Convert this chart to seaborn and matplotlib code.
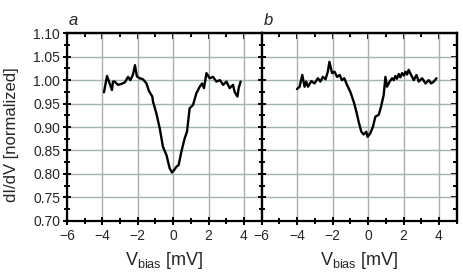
import matplotlib
matplotlib.use("Agg")
import matplotlib.pyplot as plt
import seaborn as sns
from matplotlib.ticker import MultipleLocator, NullFormatter

# curve a
va_x = [-3.91, -3.74, -3.59, -3.46, -3.40, -3.31, -3.12, -2.93, -2.74, -2.55, -2.42, -2.27,
        -2.16, -2.05, -1.89, -1.71, -1.51, -1.37, -1.18, -1.14, -0.95, -0.76, -0.58, -0.38, -0.20,
        -0.07, 0.05, 0.18, 0.31, 0.46, 0.65, 0.78, 0.93, 1.12, 1.31, 1.50, 1.63, 1.74, 1.88,
        2.06, 2.25, 2.44, 2.64, 2.82, 3.01, 3.19, 3.38, 3.47, 3.63, 3.70, 3.81]
va_y = [0.974, 1.009, 0.993, 0.979, 0.997, 0.997, 0.990, 0.992, 0.995, 1.007, 1.000, 1.012,
        1.032, 1.008, 1.004, 1.002, 0.993, 0.977, 0.965, 0.954, 0.929, 0.897, 0.858, 0.840, 0.812,
        0.803, 0.808, 0.815, 0.819, 0.847, 0.876, 0.890, 0.940, 0.947, 0.972, 0.986, 0.993,
        0.983, 1.015, 1.004, 1.007, 0.997, 1.000, 0.990, 0.997, 0.983, 0.990, 0.975, 0.965,
        0.983, 0.997]

# curve b
vb_x = [-4.01, -3.86, -3.71, -3.58, -3.49, -3.39, -3.20, -3.02, -2.83, -2.69, -2.55, -2.40,
        -2.27, -2.18, -2.03, -1.89, -1.75, -1.60, -1.47, -1.34, -1.19, -1.00, -0.81, -0.66,
        -0.53, -0.38, -0.25, -0.10, -0.03, 0.13, 0.28, 0.41, 0.60, 0.73, 0.88, 0.98, 1.07,
        1.22, 1.36, 1.45, 1.54, 1.63, 1.73, 1.82, 1.92, 2.02, 2.11, 2.20, 2.29, 2.43, 2.58,
        2.73, 2.86, 3.05, 3.24, 3.42, 3.56, 3.71, 3.86]
vb_y = [0.981, 0.986, 1.011, 0.986, 0.997, 0.986, 0.998, 0.993, 1.004, 0.997, 1.007, 1.002,
        1.018, 1.039, 1.015, 1.018, 1.007, 1.011, 1.000, 1.004, 0.990, 0.975, 0.954, 0.933,
        0.911, 0.890, 0.884, 0.890, 0.879, 0.887, 0.901, 0.922, 0.926, 0.943, 0.968, 1.007,
        0.986, 0.997, 1.004, 1.000, 1.009, 1.003, 1.013, 1.006, 1.015, 1.010, 1.018, 1.012,
        1.022, 1.011, 1.000, 1.011, 0.997, 1.004, 0.993, 1.000, 0.993, 0.997, 1.004]

panel_labels = ["a", "b"]

sns.set_style("white")
plt.rcParams["font.family"] = ["Liberation Sans", "DejaVu Sans"]
plt.rcParams["mathtext.fontset"] = "custom"
plt.rcParams["mathtext.rm"] = "Liberation Sans"
plt.rcParams["xtick.direction"] = "inout"
plt.rcParams["ytick.direction"] = "inout"

fig = plt.figure(figsize=(4.63, 2.76), dpi=100)
bottom, height = 0.2004, 0.6789
ax_a = fig.add_axes([0.1447, bottom, 0.4205, height])
ax_b = fig.add_axes([0.5652, bottom, 0.4212, height])

grid_col = "#a3b2b2"
for ax, xs, ys, lab in [(ax_a, va_x, va_y, panel_labels[0]), (ax_b, vb_x, vb_y, panel_labels[1])]:
    sns.lineplot(x=xs, y=ys, ax=ax, color="black", lw=1.7, sort=False)
    ax.set_xlim(-6, 5)
    ax.set_ylim(0.70, 1.10)
    ax.xaxis.set_major_locator(MultipleLocator(2))
    ax.xaxis.set_minor_locator(MultipleLocator(1))
    ax.yaxis.set_major_locator(MultipleLocator(0.05))
    ax.yaxis.set_minor_locator(MultipleLocator(0.025))
    ax.grid(True, which="major", color=grid_col, lw=1.0)
    ax.set_axisbelow(True)
    for s in ax.spines.values():
        s.set_color("black")
        s.set_linewidth(1.6)
    ax.tick_params(axis="both", which="major", direction="inout", length=6, width=1.4,
                   labelsize=10, color="black", bottom=True, left=True)
    ax.tick_params(axis="both", which="minor", direction="inout", length=4.5, width=1.4,
                   color="black", bottom=True, left=True)
    ax.tick_params(axis="x", which="major", pad=3)
    ax.tick_params(axis="y", which="major", pad=2)
    ax.set_xlabel("V$_{\\rm bias}$ [mV]", fontsize=13, labelpad=5)
    ax.text(0.01, 1.03, lab, transform=ax.transAxes, fontsize=12, style="italic", va="bottom")
    # top ticks pointing inward
    top = ax.secondary_xaxis("top")
    top.xaxis.set_major_locator(MultipleLocator(2))
    top.xaxis.set_minor_locator(MultipleLocator(1))
    top.xaxis.set_major_formatter(NullFormatter())
    top.tick_params(which="major", direction="in", length=4, width=1.4, color="black")
    top.tick_params(which="minor", direction="in", length=3, width=1.4, color="black")
    top.spines["top"].set_linewidth(1.6)

ax_a.set_ylabel("dI/dV [normalized]", fontsize=12)
ax_a.yaxis.set_label_coords(-0.245, 0.46)
ax_b.set_ylabel("")
ax_b.tick_params(axis="y", which="both", labelleft=False)

# right-side ticks on panel b pointing inward
rt = ax_b.secondary_yaxis("right")
rt.yaxis.set_major_locator(MultipleLocator(0.05))
rt.yaxis.set_minor_locator(MultipleLocator(0.025))
rt.yaxis.set_major_formatter(NullFormatter())
rt.tick_params(which="major", direction="in", length=4, width=1.4, color="black")
rt.tick_params(which="minor", direction="in", length=3, width=1.4, color="black")
rt.spines["right"].set_linewidth(1.6)

fig.savefig("out.png", dpi=100)
